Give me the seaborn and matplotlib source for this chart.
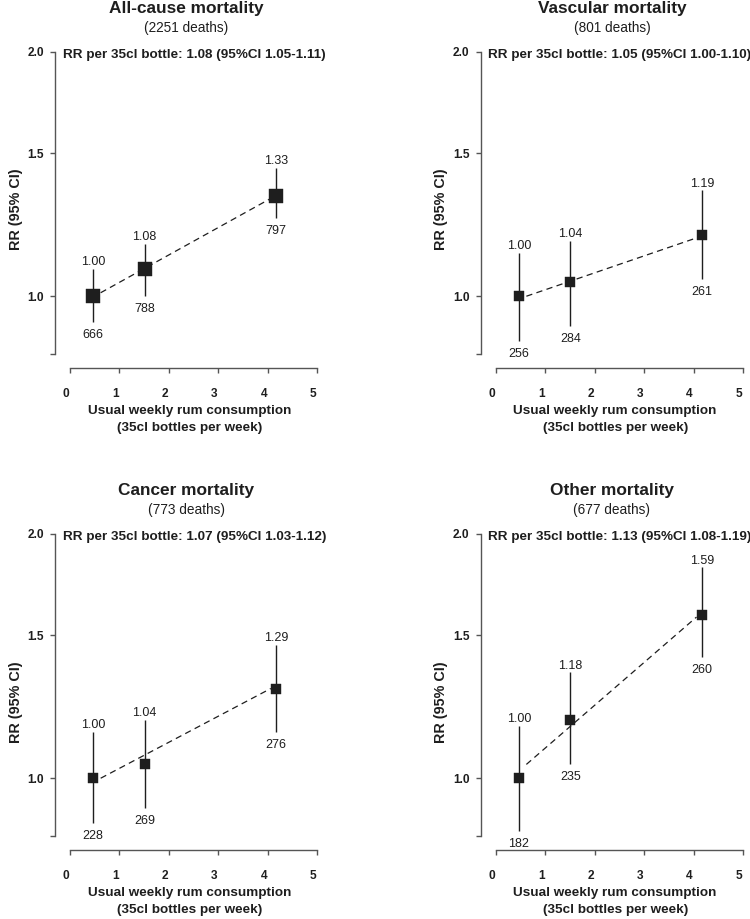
import matplotlib
matplotlib.use('Agg')
import matplotlib.pyplot as plt
import matplotlib.transforms as mtransforms
from matplotlib.ticker import NullLocator
import numpy as np
import pandas as pd
import seaborn as sns

sns.set_theme(style='ticks')
plt.rcParams['font.family'] = ['Liberation Sans', 'DejaVu Sans']

#%% data
titles = ['All-cause mortality', 'Vascular mortality', 'Cancer mortality', 'Other mortality']
n_deaths = [2251, 801, 773, 677]

# RR per 35cl bottle (trend) with 95% CI
per_bottle = [1.08, 1.05, 1.07, 1.13]
per_bottle_lo = [1.05, 1.00, 1.03, 1.08]
per_bottle_hi = [1.11, 1.10, 1.12, 1.19]

# mean usual weekly consumption in each group
bottles = [0.47, 1.51, 4.17]

rr = [[1.00, 1.08, 1.33],
      [1.00, 1.04, 1.19],
      [1.00, 1.04, 1.29],
      [1.00, 1.18, 1.59]]
rr_lo = [[0.93, 1.00, 1.25],
         [0.88, 0.92, 1.05],
         [0.88, 0.92, 1.14],
         [0.86, 1.04, 1.41]]
rr_hi = [[1.08, 1.16, 1.44],
         [1.13, 1.17, 1.35],
         [1.14, 1.18, 1.46],
         [1.16, 1.35, 1.82]]
deaths = [[666, 788, 797],
          [256, 284, 261],
          [228, 269, 276],
          [182, 235, 260]]

# fitted log-linear trend, drawn between first and last group
trend_x = [0.62, 4.06]
trend_y = [[1.01, 1.32],
           [1.00, 1.18],
           [1.00, 1.29],
           [1.04, 1.58]]

#%% layout
W, H = 750, 919
fig = plt.figure(figsize=(W / 100, H / 100), dpi=100)

col_left = [70, 495.7]
row_top = [52, 534]
ax_w, ax_h = 247.3, 301.5
ink = '#1e1e1e'
spine_col = '#555555'

dx = mtransforms.ScaledTranslation(-4 / 100, 0, fig.dpi_scale_trans)

for i in range(4):
    r, c = divmod(i, 2)
    left = col_left[c] / W
    bottom = (H - row_top[r] - ax_h) / H
    ax = fig.add_axes([left, bottom, ax_w / W, ax_h / H])

    df = pd.DataFrame({'bottles': bottles, 'rr': rr[i], 'lo': rr_lo[i],
                       'hi': rr_hi[i], 'deaths': deaths[i]})

    ax.vlines(df['bottles'], df['lo'], df['hi'], color=ink, lw=1.0, zorder=2)
    ax.plot(trend_x, trend_y[i], color=ink, lw=0.9, ls=(0, (5, 3.5)), zorder=1)
    msize = 108 if i == 0 else 46
    sns.scatterplot(data=df, x='bottles', y='rr', marker='s', s=msize,
                    color=ink, edgecolor=ink, linewidth=0.3, zorder=3,
                    ax=ax, clip_on=False, legend=False)

    for _, row in df.iterrows():
        ax.annotate(f"{row['rr']:.2f}", (row['bottles'], row['hi']),
                    xytext=(0, 0.5), textcoords='offset points',
                    ha='center', va='bottom', fontsize=9.0, color=ink)
        ax.annotate(f"{int(row['deaths'])}", (row['bottles'], row['lo']),
                    xytext=(0, -5), textcoords='offset points',
                    ha='center', va='top', fontsize=9.0, color=ink)

    ax.set_yscale('log')
    ax.set_xlim(0, 5)
    ax.set_ylim(0.85, 2.0)
    ax.set_yticks([0.85, 1.0, 1.5, 2.0], ['', '1.0', '1.5', '2.0'])
    ax.yaxis.set_minor_locator(NullLocator())
    ax.set_xticks(range(6), [str(v) for v in range(6)])

    sns.despine(ax=ax)
    ax.spines['left'].set_position(('outward', 10.8))
    ax.spines['bottom'].set_position(('outward', 10.5))
    for s in ['left', 'bottom']:
        ax.spines[s].set_color(spine_col)
        ax.spines[s].set_linewidth(1.0)
    ax.tick_params(axis='both', direction='out', length=3.8, width=1.0,
                   color=spine_col, labelsize=8.6, labelcolor=ink)
    ax.tick_params(axis='y', pad=4.3)
    ax.tick_params(axis='x', pad=10.3)
    for lbl in ax.get_xticklabels() + ax.get_yticklabels():
        lbl.set_fontweight('bold')
    for lbl in ax.get_xticklabels():
        lbl.set_transform(lbl.get_transform() + dx)

    ax.set_xlabel('')
    ax.set_ylabel('')
    ax.text(0.47, 1.144, titles[i], transform=ax.transAxes, ha='center',
            va='center', fontsize=12.4, fontweight='bold', color=ink)
    ax.text(0.47, 1.08, f'({n_deaths[i]} deaths)', transform=ax.transAxes,
            ha='center', va='center', fontsize=9.8, color=ink)
    ax.text(-0.03, 0.99,
            f'RR per 35cl bottle: {per_bottle[i]:.2f} '
            f'(95%CI {per_bottle_lo[i]:.2f}-{per_bottle_hi[i]:.2f})',
            transform=ax.transAxes, ha='left', va='center', fontsize=9.7,
            fontweight='bold', color=ink)
    ax.text(-0.22, 0.477 if r == 0 else 0.443, 'RR (95% CI)', rotation=90,
            transform=ax.transAxes, ha='center', va='center', fontsize=10.4,
            fontweight='bold', color=ink)
    ax.text(0.483, -0.19, 'Usual weekly rum consumption', transform=ax.transAxes,
            ha='center', va='center', fontsize=9.7, fontweight='bold', color=ink)
    ax.text(0.483, -0.246, '(35cl bottles per week)', transform=ax.transAxes,
            ha='center', va='center', fontsize=9.7, fontweight='bold', color=ink)

fig.savefig('out.png', dpi=100, facecolor='white')
